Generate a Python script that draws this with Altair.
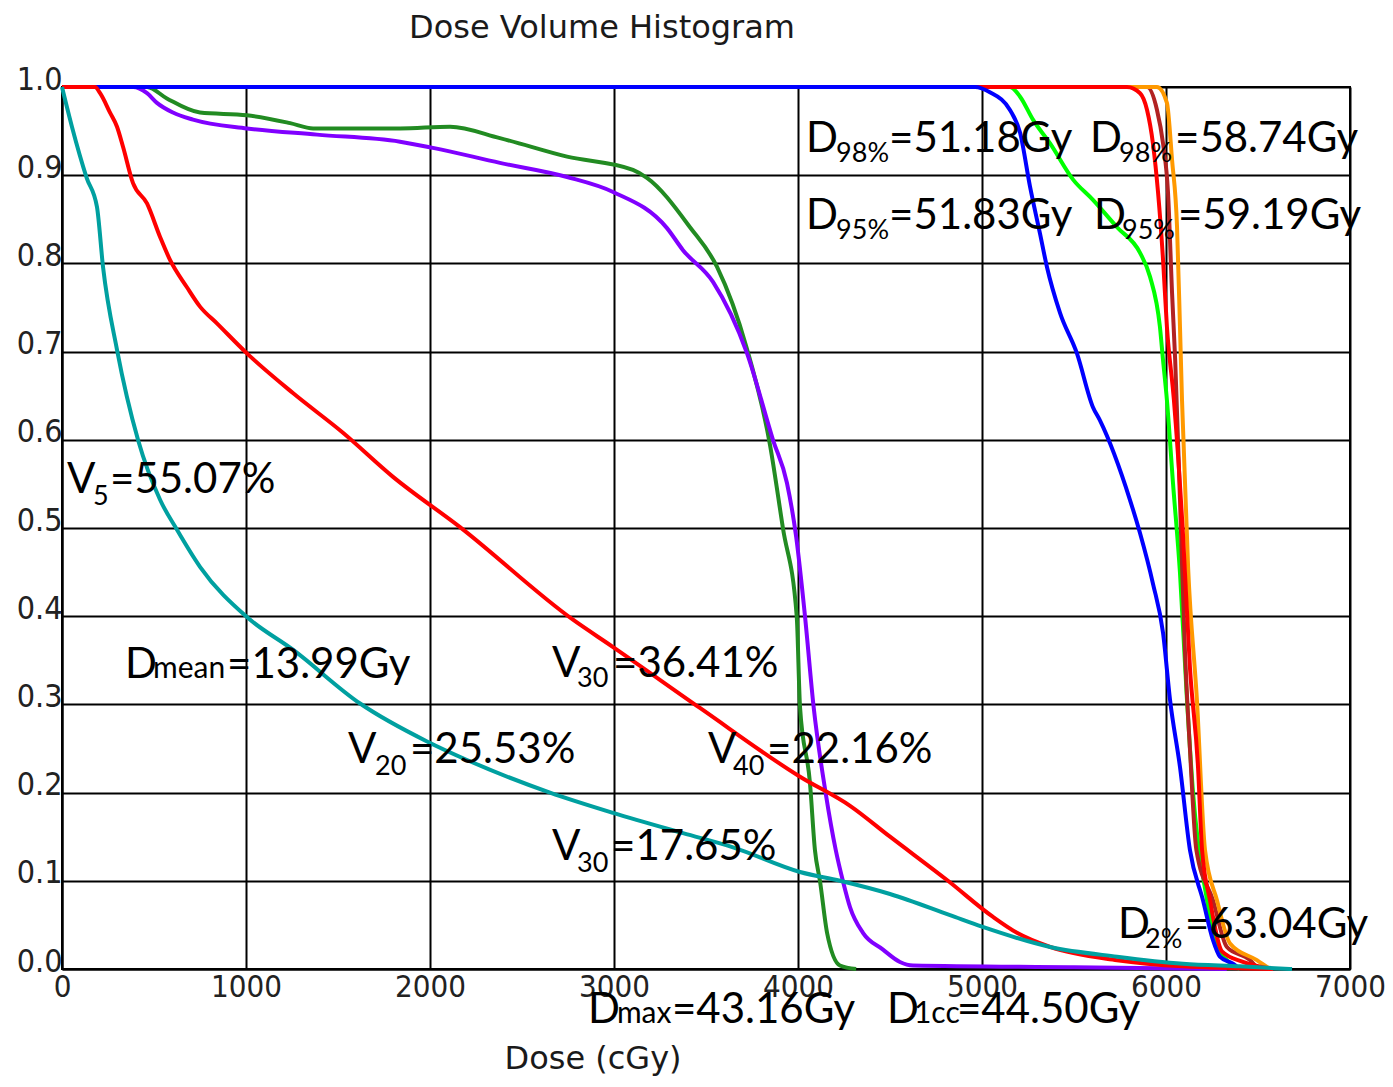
import altair as alt
import pandas as pd

# ---------------- data ----------------
title_text = "Dose Volume Histogram"
x_title_text = "Dose (cGy)"
x_ticks = [0, 1000, 2000, 3000, 4000, 5000, 6000, 7000]
y_ticks = [0.0, 0.1, 0.2, 0.3, 0.4, 0.5, 0.6, 0.7, 0.8, 0.9, 1.0]

teal_dose = [0, 54, 134, 190, 223, 299, 413, 533, 625, 750, 1005, 1255, 1620, 1984, 2201,
             2652, 2995, 3375, 3647, 4011, 4228, 4500, 4826, 5000, 5370, 5734, 6092, 6400, 6685]
teal_vol = [1.0, 0.955, 0.897, 0.864, 0.796, 0.702, 0.600, 0.532, 0.498, 0.456, 0.399, 0.362,
            0.301, 0.258, 0.237, 0.200, 0.177, 0.154, 0.138, 0.110, 0.100, 0.085, 0.061, 0.048,
            0.025, 0.014, 0.006, 0.003, 0.0]

redlung_dose = [0, 179, 207, 261, 299, 332, 386, 462, 533, 587, 679, 750, 842, 1005, 1255, 1527,
                1799, 2163, 2777, 2995, 3467, 4011, 4283, 4500, 4815, 5060, 5190, 5370, 5734,
                6092, 6582]
redlung_vol = [1.0, 1.0, 0.993, 0.971, 0.955, 0.932, 0.891, 0.868, 0.830, 0.804, 0.773, 0.751,
               0.732, 0.698, 0.653, 0.608, 0.558, 0.501, 0.396, 0.365, 0.296, 0.218, 0.185,
               0.150, 0.100, 0.059, 0.041, 0.025, 0.010, 0.003, 0.0]

green_dose = [0, 462, 570, 750, 1005, 1240, 1365, 1837, 2109, 2380, 2745, 3103, 3179, 3413,
              3560, 3720, 3848, 3918, 3993, 4011, 4065, 4092, 4120, 4158, 4228, 4316]
green_vol = [1.0, 1.0, 0.987, 0.971, 0.968, 0.959, 0.953, 0.953, 0.955, 0.942, 0.921, 0.906,
             0.897, 0.841, 0.796, 0.705, 0.594, 0.500, 0.400, 0.297, 0.211, 0.135, 0.099,
             0.041, 0.004, 0.0]

purple_dose = [0, 386, 462, 516, 603, 712, 1005, 1386, 1837, 2016, 2380, 2745, 2995, 3288,
               3375, 3538, 3723, 3864, 3940, 3990, 4038, 4085, 4150, 4205, 4245, 4283, 4353,
               4462, 4554, 4625, 5500, 6330]
purple_vol = [1.0, 1.0, 0.993, 0.982, 0.971, 0.963, 0.953, 0.946, 0.938, 0.931, 0.914, 0.898,
              0.881, 0.840, 0.815, 0.779, 0.698, 0.600, 0.551, 0.490, 0.400, 0.297, 0.200,
              0.135, 0.099, 0.070, 0.041, 0.022, 0.008, 0.004, 0.002, 0.0]

blue_dose = [0, 4962, 5043, 5152, 5207, 5261, 5315, 5353, 5424, 5516, 5603, 5641, 5804, 5859,
             5929, 5984, 6022, 6076, 6130, 6201, 6255, 6293, 6364, 6402]
blue_vol = [1.0, 1.0, 0.994, 0.974, 0.948, 0.887, 0.834, 0.796, 0.744, 0.698, 0.637, 0.622,
            0.532, 0.494, 0.437, 0.381, 0.305, 0.229, 0.135, 0.078, 0.033, 0.014, 0.006, 0.0]

lime_dose = [0, 5152, 5207, 5277, 5370, 5495, 5603, 5734, 5859, 5913, 5967, 5984, 6005, 6038,
             6076, 6114, 6147, 6223, 6277, 6331, 6400]
lime_vol = [1.0, 1.0, 0.989, 0.963, 0.936, 0.895, 0.872, 0.841, 0.812, 0.785, 0.728, 0.690,
            0.645, 0.551, 0.449, 0.305, 0.200, 0.078, 0.025, 0.010, 0.0]

brown_dose = [0, 5897, 5951, 5984, 6011, 6033, 6050, 6076, 6103, 6130, 6165, 6255, 6331, 6457, 6500]
brown_vol = [1.0, 1.0, 0.974, 0.936, 0.880, 0.766, 0.690, 0.532, 0.360, 0.250, 0.135, 0.078,
             0.025, 0.010, 0.0]

orange_dose = [0, 5951, 6005, 6033, 6060, 6076, 6087, 6120, 6168, 6212, 6277, 6348, 6494, 6565]
orange_vol = [1.0, 1.0, 0.982, 0.917, 0.841, 0.728, 0.645, 0.456, 0.305, 0.135, 0.078, 0.029,
              0.010, 0.0]

redptv_dose = [0, 5788, 5859, 5897, 5929, 5957, 5984, 6005, 6043, 6092, 6130, 6174, 6196, 6239,
               6304, 6418, 6582]
redptv_vol = [1.0, 1.0, 0.993, 0.974, 0.936, 0.880, 0.804, 0.728, 0.645, 0.494, 0.342, 0.229,
              0.135, 0.078, 0.020, 0.008, 0.0]

# drawing order (bottom -> top) and colours
curves = [
    ("green", green_dose, green_vol, "#228B22"),
    ("purple", purple_dose, purple_vol, "#8000FF"),
    ("lime", lime_dose, lime_vol, "#00FF00"),
    ("brown", brown_dose, brown_vol, "#B22222"),
    ("orange", orange_dose, orange_vol, "#FF9900"),
    ("red_ptv", redptv_dose, redptv_vol, "#FF0000"),
    ("blue", blue_dose, blue_vol, "#0000FF"),
    ("red_lung", redlung_dose, redlung_vol, "#FF0000"),
    ("teal", teal_dose, teal_vol, "#00A0A0"),
]

# annotation pieces: (text, dose, volume, kind)  kind: main / sub / small
annotations = [
    ("D", 4043, 0.9263, "main"), ("98%", 4207, 0.9150, "sub"), ("=51.18Gy", 4495, 0.9263, "main"),
    ("D", 5587, 0.9263, "main"), ("98%", 5745, 0.9150, "sub"), ("=58.74Gy", 6049, 0.9263, "main"),
    ("D", 4043, 0.8390, "main"), ("95%", 4207, 0.8277, "sub"), ("=51.83Gy", 4495, 0.8390, "main"),
    ("D", 5609, 0.8390, "main"), ("95%", 5761, 0.8277, "sub"), ("=59.19Gy", 6065, 0.8390, "main"),
    ("V", 27, 0.5397, "main"), ("5", 168, 0.5261, "sub"), ("=55.07%", 261, 0.5397, "main"),
    ("D", 342, 0.3299, "main"), ("mean", 495, 0.3299, "small"), ("=13.99Gy", 897, 0.3299, "main"),
    ("V", 2663, 0.3311, "main"), ("30", 2799, 0.3197, "sub"), ("=36.41%", 2995, 0.3311, "main"),
    ("V", 1554, 0.2336, "main"), ("20", 1701, 0.2200, "sub"), ("=25.53%", 1891, 0.2336, "main"),
    ("V", 3511, 0.2336, "main"), ("40", 3647, 0.2200, "sub"), ("=22.16%", 3832, 0.2336, "main"),
    ("V", 2663, 0.1236, "main"), ("30", 2799, 0.1100, "sub"), ("=17.65%", 2984, 0.1236, "main"),
    ("D", 5739, 0.0351, "main"), ("2%", 5886, 0.0238, "sub"), ("=63.04Gy", 6103, 0.0351, "main"),
    ("D", 2859, -0.0612, "main"), ("max", 3016, -0.0612, "small"), ("=43.16Gy", 3315, -0.0612, "main"),
    ("D", 4484, -0.0612, "main"), ("1cc", 4630, -0.0612, "small"), ("=44.50Gy", 4864, -0.0612, "main"),
]

# title & axis title anchors (data coordinates)
title_pos = (2935, 1.0556)
xtitle_pos = (2886, -0.1134)

# ---------------- chart ----------------
pix_font = "DejaVu Sans Condensed, DejaVu Sans"
ann_font = "Lato"

xscale = alt.Scale(domain=[0, 7000], nice=False, zero=False)
yscale = alt.Scale(domain=[0, 1], nice=False, zero=False)

x_axis = alt.Axis(values=x_ticks, title=None, grid=True, gridColor="black", gridWidth=2,
                  gridOpacity=1, domainColor="black", domainWidth=2, ticks=False,
                  tickSize=0, labelFont=pix_font, labelFontSize=31, labelColor="#222222",
                  labelPadding=3, labelFlush=False, labelOverlap=False,
                  labelBaseline="top", format="d")
y_axis = alt.Axis(values=y_ticks, title=None, grid=True, gridColor="black", gridWidth=2,
                  gridOpacity=1, domainColor="black", domainWidth=2, ticks=False,
                  tickSize=0, labelFont=pix_font, labelFontSize=32, labelColor="#222222",
                  labelPadding=0, labelOffset=-8, labelFlush=False, labelOverlap=False,
                  format=".1f")

X = alt.X("dose:Q", scale=xscale, axis=x_axis)
Y = alt.Y("vol:Q", scale=yscale, axis=y_axis)

layers = []
for name, d, v, col in curves:
    df = pd.DataFrame({"dose": d, "vol": v, "i": list(range(len(d)))})
    layers.append(
        alt.Chart(df).mark_line(color=col, strokeWidth=4, clip=False,
                                interpolate="monotone").encode(
            x=X, y=Y, order=alt.Order("i:Q"),
        )
    )

ann_df = pd.DataFrame(annotations, columns=["text", "dose", "vol", "kind"])
size_map = {"main": 42, "sub": 27, "small": 30}
for kind, sz in size_map.items():
    sub = ann_df[ann_df["kind"] == kind]
    layers.append(
        alt.Chart(sub).mark_text(font=ann_font, fontSize=sz, align="left", baseline="alphabetic",
                                 color="black").encode(x=X, y=Y, text="text:N")
    )

titles_df = pd.DataFrame({
    "text": [title_text, x_title_text],
    "dose": [title_pos[0], xtitle_pos[0]],
    "vol": [title_pos[1], xtitle_pos[1]],
})
layers.append(
    alt.Chart(titles_df).mark_text(font="DejaVu Sans", fontSize=32, align="center",
                                   baseline="alphabetic", color="#1a1a1a").encode(
        x=X, y=Y, text="text:N",
    )
)

chart = alt.layer(*layers).properties(
    width=1288, height=882,
    autosize=alt.AutoSizeParams(type="none"),
    padding={"left": 54, "top": 79, "right": 35, "bottom": 108},
    background="white",
).configure_view(stroke="black", strokeWidth=2)

chart.save("out.html", embed_options={"renderer": "svg", "actions": False})
